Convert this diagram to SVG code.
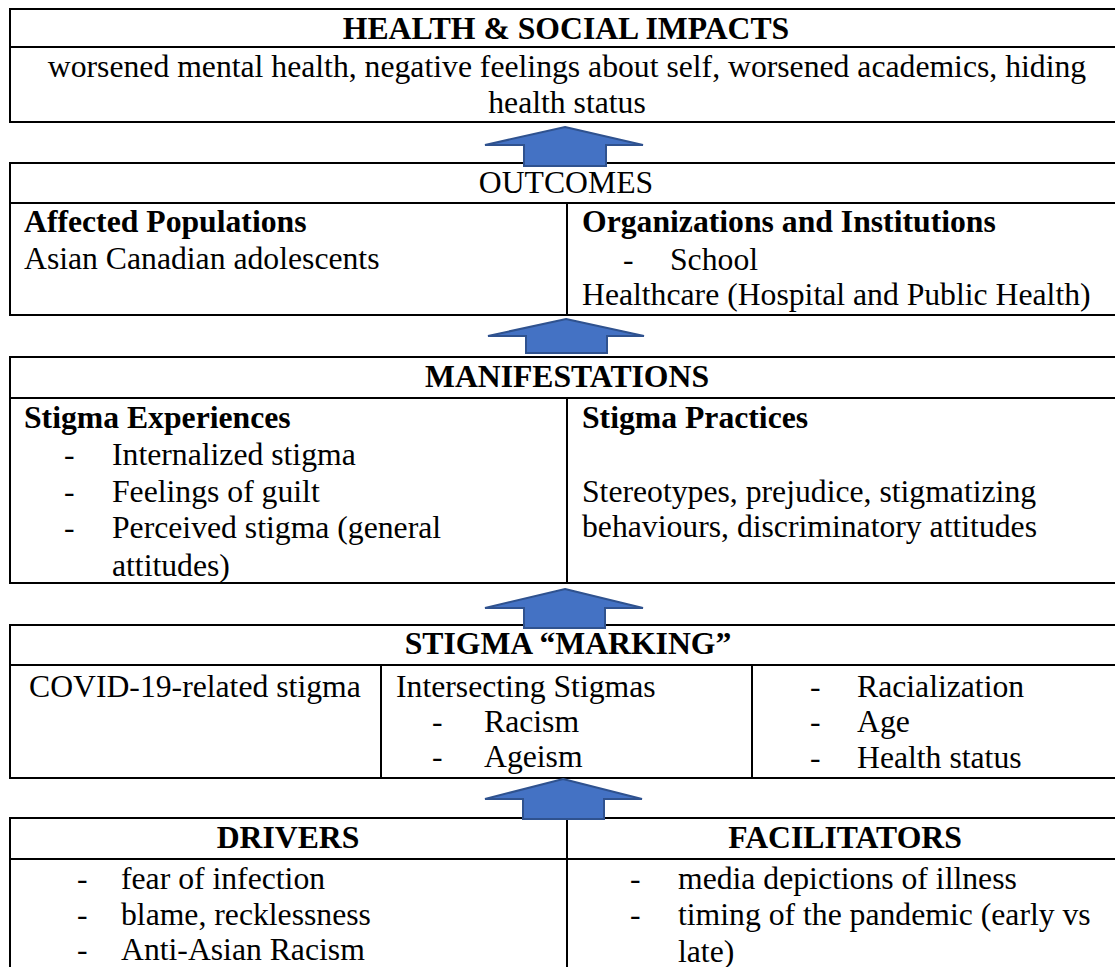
<svg xmlns="http://www.w3.org/2000/svg" width="1115" height="967" viewBox="0 0 1115 967">
  <style>
    .box{fill:#fff;stroke:#000;stroke-width:2}
    .ln{fill:none;stroke:#000;stroke-width:2}
    .t{font-family:"Liberation Serif","Times New Roman",serif;font-size:31.7px;fill:#000}
    .h{font-weight:bold}
    .c{text-anchor:middle}
    .arrow{fill:#4472C4;stroke:#2F528F;stroke-width:2;stroke-linejoin:miter}
  </style>
  <rect width="1115" height="967" fill="#fff"/>

  <!-- Health & social impacts -->
  <g id="impacts">
    <rect class="box" x="10" y="9" width="1113" height="113"/>
    <line class="ln" x1="10" y1="47" x2="1123" y2="47"/>
    <text class="t h c" x="566" y="39">HEALTH &amp; SOCIAL IMPACTS</text>
    <text class="t c" x="567" y="77">worsened mental health, negative feelings about self, worsened academics, hiding</text>
    <text class="t c" x="567" y="113">health status</text>
  </g>

  <!-- Outcomes -->
  <g id="outcomes">
    <rect class="box" x="10" y="163" width="1113" height="152"/>
    <line class="ln" x1="10" y1="203" x2="1123" y2="203"/>
    <line class="ln" x1="567" y1="203" x2="567" y2="315"/>
    <text class="t c" x="566" y="193">OUTCOMES</text>
    <text class="t h" x="24" y="232">Affected Populations</text>
    <text class="t" x="24" y="269">Asian Canadian adolescents</text>
    <text class="t h" x="582" y="232">Organizations and Institutions</text>
    <text class="t" x="623" y="270">-</text>
    <text class="t" x="670" y="270">School</text>
    <text class="t" x="582" y="305">Healthcare (Hospital and Public Health)</text>
  </g>

  <!-- Manifestations -->
  <g id="manifestations">
    <rect class="box" x="10" y="357" width="1113" height="226"/>
    <line class="ln" x1="10" y1="398" x2="1123" y2="398"/>
    <line class="ln" x1="567" y1="398" x2="567" y2="583"/>
    <text class="t h c" x="567" y="387">MANIFESTATIONS</text>
    <text class="t h" x="24" y="428">Stigma Experiences</text>
    <text class="t" x="64" y="465">-</text>
    <text class="t" x="112" y="465">Internalized stigma</text>
    <text class="t" x="64" y="502">-</text>
    <text class="t" x="112" y="502">Feelings of guilt</text>
    <text class="t" x="64" y="538">-</text>
    <text class="t" x="112" y="538">Perceived stigma (general</text>
    <text class="t" x="112" y="576">attitudes)</text>
    <text class="t h" x="582" y="428">Stigma Practices</text>
    <text class="t" x="582" y="502">Stereotypes, prejudice, stigmatizing</text>
    <text class="t" x="582" y="537">behaviours, discriminatory attitudes</text>
  </g>

  <!-- Stigma marking -->
  <g id="marking">
    <rect class="box" x="10" y="625" width="1113" height="153"/>
    <line class="ln" x1="10" y1="665" x2="1123" y2="665"/>
    <line class="ln" x1="381" y1="665" x2="381" y2="778"/>
    <line class="ln" x1="752" y1="665" x2="752" y2="778"/>
    <text class="t h c" x="568" y="654">STIGMA “MARKING”</text>
    <text class="t" x="29" y="697">COVID-19-related stigma</text>
    <text class="t" x="396" y="697">Intersecting Stigmas</text>
    <text class="t" x="432" y="732">-</text>
    <text class="t" x="484" y="732">Racism</text>
    <text class="t" x="432" y="767">-</text>
    <text class="t" x="484" y="767">Ageism</text>
    <text class="t" x="810" y="697">-</text>
    <text class="t" x="857" y="697">Racialization</text>
    <text class="t" x="810" y="732">-</text>
    <text class="t" x="857" y="732">Age</text>
    <text class="t" x="810" y="768">-</text>
    <text class="t" x="857" y="768">Health status</text>
  </g>

  <!-- Drivers and facilitators -->
  <g id="drivers">
    <rect class="box" x="10" y="818" width="1113" height="200"/>
    <line class="ln" x1="10" y1="859" x2="1123" y2="859"/>
    <line class="ln" x1="567" y1="818" x2="567" y2="1018"/>
    <text class="t h c" x="288" y="848">DRIVERS</text>
    <text class="t" x="77" y="889">-</text>
    <text class="t" x="121" y="889">fear of infection</text>
    <text class="t" x="77" y="925">-</text>
    <text class="t" x="121" y="925">blame, recklessness</text>
    <text class="t" x="77" y="960">-</text>
    <text class="t" x="121" y="960">Anti-Asian Racism</text>
    <text class="t h c" x="845" y="848">FACILITATORS</text>
    <text class="t" x="630" y="889">-</text>
    <text class="t" x="678" y="889">media depictions of illness</text>
    <text class="t" x="630" y="925">-</text>
    <text class="t" x="678" y="925">timing of the pandemic (early vs</text>
    <text class="t" x="678" y="962">late)</text>
  </g>

  <!-- Upward block arrows between levels -->
  <g id="connectors">
    <polygon class="arrow" points="565,127 643,145 606,145 606,166 524,166 524,145 485,145"/>
    <polygon class="arrow" points="566,319 644,336 607,336 607,353 526,353 526,336 488,336"/>
    <polygon class="arrow" points="565,589 643,608 605,608 605,628 524,628 524,608 485,608"/>
    <polygon class="arrow" points="563,779 642,799 604,799 604,819 523,819 523,799 485,799"/>
  </g>
</svg>
